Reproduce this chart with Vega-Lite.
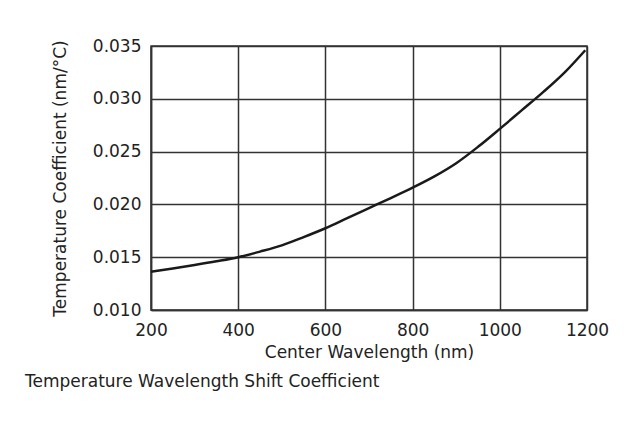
{
  "$schema": "https://vega.github.io/schema/vega-lite/v6.json",
  "width": 436,
  "height": 264,
  "autosize": {"type": "none"},
  "padding": {"left": 151, "top": 46, "right": 54, "bottom": 113},
  "background": "white",
  "config": {
    "font": "DejaVu Sans",
    "view": {"stroke": "#333333", "strokeWidth": 1.5},
    "axis": {
      "labelFont": "DejaVu Sans",
      "titleFont": "DejaVu Sans",
      "labelFontSize": 17,
      "titleFontSize": 17,
      "labelColor": "#222222",
      "titleColor": "#222222",
      "titleFontWeight": "normal",
      "gridColor": "#333333",
      "gridOpacity": 1,
      "gridWidth": 1.5,
      "domainColor": "#333333",
      "domainWidth": 1.5,
      "ticks": false
    }
  },
  "title": {
    "text": "Temperature Wavelength Shift Coefficient",
    "orient": "bottom",
    "anchor": "start",
    "frame": "group",
    "dx": -126,
    "offset": 14,
    "font": "DejaVu Sans",
    "fontSize": 17,
    "fontWeight": "normal",
    "color": "#222222"
  },
  "data": {
    "values": [
      {"wavelength": 200, "coef": 0.01363},
      {"wavelength": 250, "coef": 0.01393},
      {"wavelength": 300, "coef": 0.01426},
      {"wavelength": 350, "coef": 0.01461},
      {"wavelength": 400, "coef": 0.0150},
      {"wavelength": 450, "coef": 0.01553},
      {"wavelength": 500, "coef": 0.01612},
      {"wavelength": 550, "coef": 0.0169},
      {"wavelength": 600, "coef": 0.01774},
      {"wavelength": 650, "coef": 0.0187},
      {"wavelength": 700, "coef": 0.01965},
      {"wavelength": 750, "coef": 0.0206},
      {"wavelength": 800, "coef": 0.02158},
      {"wavelength": 850, "coef": 0.02265},
      {"wavelength": 900, "coef": 0.0239},
      {"wavelength": 950, "coef": 0.02545},
      {"wavelength": 1000, "coef": 0.02715},
      {"wavelength": 1050, "coef": 0.0289},
      {"wavelength": 1100, "coef": 0.03065},
      {"wavelength": 1150, "coef": 0.03255},
      {"wavelength": 1196, "coef": 0.0346}
    ]
  },
  "mark": {"type": "line", "color": "#1a1a1a", "strokeWidth": 2.5, "interpolate": "monotone"},
  "encoding": {
    "x": {
      "field": "wavelength",
      "type": "quantitative",
      "scale": {"domain": [200, 1200], "nice": false, "zero": false},
      "axis": {
        "title": "Center Wavelength (nm)",
        "values": [200, 400, 600, 800, 1000, 1200],
        "format": "d",
        "labelPadding": 12,
        "titlePadding": 6,
        "labelFlush": false
      }
    },
    "y": {
      "field": "coef",
      "type": "quantitative",
      "scale": {"domain": [0.010, 0.035], "nice": false, "zero": false},
      "axis": {
        "title": "Temperature Coefficient (nm/°C)",
        "values": [0.010, 0.015, 0.020, 0.025, 0.030, 0.035],
        "format": ".3f",
        "labelPadding": 10,
        "titlePadding": 23,
        "labelFlush": false
      }
    }
  }
}
